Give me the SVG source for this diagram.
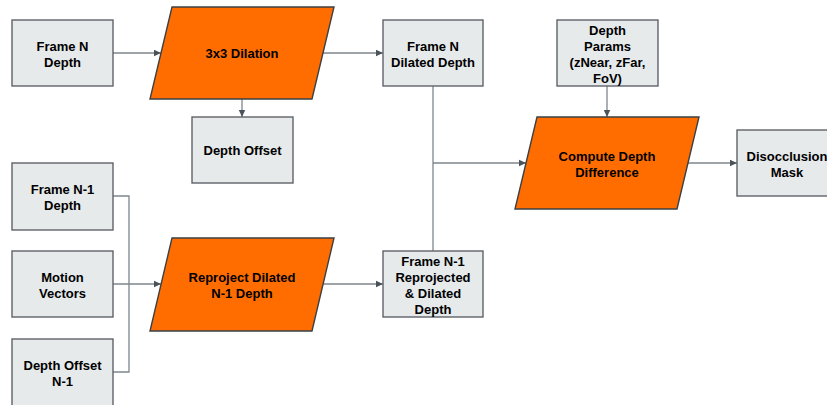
<svg xmlns="http://www.w3.org/2000/svg" width="827" height="405" viewBox="0 0 827 405">
  <style>
    .box { fill: #e6eaeb; stroke: #5f6368; stroke-width: 1.4; }
    .proc { fill: #ff6d01; stroke: #3c4043; stroke-width: 1.4; }
    .lbl { font-family: "Liberation Sans", Arial, sans-serif; font-size: 13px; font-weight: bold; fill: #000; text-anchor: middle; }
    .wire { fill: none; stroke: #7f868c; stroke-width: 1.3; }
  </style>
  <defs>
    <marker id="arrow" markerWidth="8" markerHeight="8" refX="7" refY="4" orient="auto" markerUnits="userSpaceOnUse">
      <path d="M0,0.8 L7,4 L0,7.2 Z" fill="#4a525a"/>
    </marker>
  </defs>
  <rect width="827" height="405" fill="#fff"/>

  <g id="connectors">
    <path class="wire" d="M113,53 H161" marker-end="url(#arrow)"/>
    <path class="wire" d="M323,53 H383" marker-end="url(#arrow)"/>
    <path class="wire" d="M242,99 V117" marker-end="url(#arrow)"/>
    <path class="wire" d="M113,196 H129 V372 H113"/>
    <path class="wire" d="M113,284 H161" marker-end="url(#arrow)"/>
    <path class="wire" d="M323,284 H383" marker-end="url(#arrow)"/>
    <path class="wire" d="M433,86 V251"/>
    <path class="wire" d="M433,163 H526" marker-end="url(#arrow)"/>
    <path class="wire" d="M607,86 V117" marker-end="url(#arrow)"/>
    <path class="wire" d="M688,163 H737" marker-end="url(#arrow)"/>
  </g>

  <g id="frame-n-depth">
    <rect class="box" x="12" y="20" width="101" height="66"/>
    <text class="lbl" x="62.5" y="50.5">Frame N</text>
    <text class="lbl" x="62.5" y="66.5">Depth</text>
  </g>

  <g id="dilation">
    <polygon class="proc" points="172,7 334,7 312,99 150,99"/>
    <text class="lbl" x="242" y="58">3x3 Dilation</text>
  </g>

  <g id="frame-n-dilated">
    <rect class="box" x="383" y="20" width="100" height="66"/>
    <text class="lbl" x="433" y="50.5">Frame N</text>
    <text class="lbl" x="433" y="66.5">Dilated Depth</text>
  </g>

  <g id="depth-offset">
    <rect class="box" x="192" y="117" width="101" height="66"/>
    <text class="lbl" x="242.5" y="154.5">Depth Offset</text>
  </g>

  <g id="depth-params">
    <rect class="box" x="557" y="20" width="101" height="66"/>
    <text class="lbl" x="607.5" y="34.5">Depth</text>
    <text class="lbl" x="607.5" y="50.5">Params</text>
    <text class="lbl" x="607.5" y="66.5">(zNear, zFar,</text>
    <text class="lbl" x="607.5" y="82.5">FoV)</text>
  </g>

  <g id="compute-depth-difference">
    <polygon class="proc" points="537,117 699,117 677,209 515,209"/>
    <text class="lbl" x="607" y="160.5">Compute Depth</text>
    <text class="lbl" x="607" y="176.5">Difference</text>
  </g>

  <g id="disocclusion-mask">
    <rect class="box" x="737" y="130" width="100" height="66"/>
    <text class="lbl" x="787" y="160.5">Disocclusion</text>
    <text class="lbl" x="787" y="176.5">Mask</text>
  </g>

  <g id="frame-n1-depth">
    <rect class="box" x="12" y="163" width="101" height="67"/>
    <text class="lbl" x="62.5" y="193.5">Frame N-1</text>
    <text class="lbl" x="62.5" y="209.5">Depth</text>
  </g>

  <g id="motion-vectors">
    <rect class="box" x="12" y="251" width="101" height="66"/>
    <text class="lbl" x="62.5" y="281.5">Motion</text>
    <text class="lbl" x="62.5" y="297.5">Vectors</text>
  </g>

  <g id="depth-offset-n1">
    <rect class="box" x="12" y="339" width="101" height="67"/>
    <text class="lbl" x="62.5" y="369.5">Depth Offset</text>
    <text class="lbl" x="62.5" y="385.5">N-1</text>
  </g>

  <g id="reproject">
    <polygon class="proc" points="172,238 334,238 312,331 150,331"/>
    <text class="lbl" x="242" y="281.5">Reproject Dilated</text>
    <text class="lbl" x="242" y="297.5">N-1 Depth</text>
  </g>

  <g id="frame-n1-reprojected">
    <rect class="box" x="383" y="251" width="100" height="66"/>
    <text class="lbl" x="433" y="265.5">Frame N-1</text>
    <text class="lbl" x="433" y="281.5">Reprojected</text>
    <text class="lbl" x="433" y="297.5">&amp; Dilated</text>
    <text class="lbl" x="433" y="313.5">Depth</text>
  </g>
</svg>
